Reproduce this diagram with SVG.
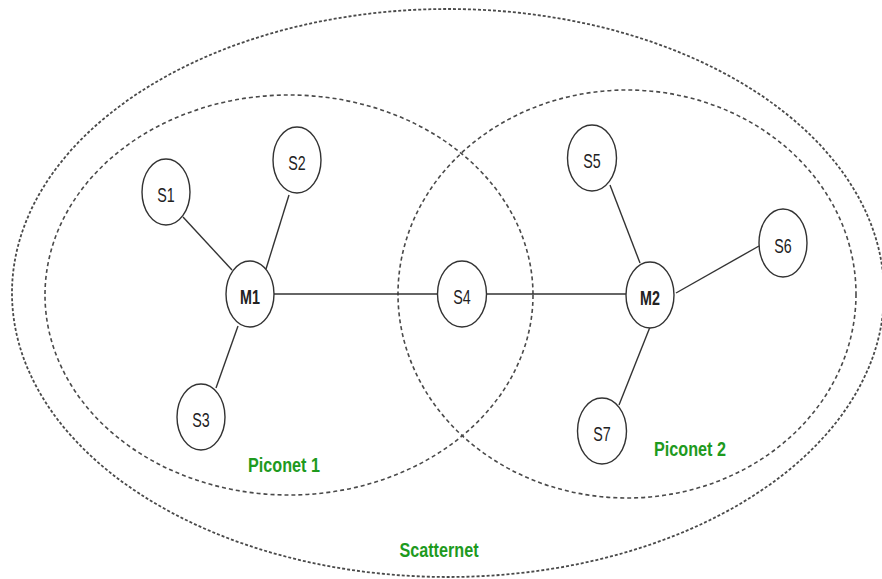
<svg xmlns="http://www.w3.org/2000/svg" width="882" height="579" viewBox="0 0 882 579">
<style>
.bg{fill:#ffffff}
.outer{fill:none;stroke:#4a4a4a;stroke-width:1.8;stroke-dasharray:3 2}
.pico{fill:none;stroke:#4a4a4a;stroke-width:1.6;stroke-dasharray:4 3}
.node ellipse{fill:#ffffff;stroke:#333;stroke-width:1.4}
.node text{font-family:"Liberation Sans",Arial,sans-serif;font-size:21px;fill:#222;text-anchor:middle}
.node text.m{font-weight:bold}
.edge{stroke:#333;stroke-width:1.4;fill:none}
.lbl{font-family:"Liberation Sans",Arial,sans-serif;font-size:21px;font-weight:bold;fill:#1e9a1e;text-anchor:middle}
</style>
<rect class="bg" x="0" y="0" width="882" height="579"/>
<g id="regions">
<ellipse id="scatternet" class="outer" cx="448" cy="293" rx="436" ry="284"/>
<ellipse id="piconet1" class="pico" cx="289" cy="295" rx="244" ry="200"/>
<ellipse id="piconet2" class="pico" cx="627" cy="294" rx="229" ry="204"/>
</g>
<g id="connectors">
<line class="edge" x1="183" y1="217" x2="232" y2="270"/>
<line class="edge" x1="289" y1="195" x2="266" y2="269"/>
<line class="edge" x1="238" y1="326" x2="216" y2="388"/>
<line class="edge" x1="274" y1="294" x2="438" y2="294"/>
<line class="edge" x1="487" y1="294" x2="626" y2="294"/>
<line class="edge" x1="610" y1="185" x2="640" y2="263"/>
<line class="edge" x1="759" y1="246" x2="676" y2="293"/>
<line class="edge" x1="650" y1="327" x2="619" y2="405"/>
</g>
<g id="S1" class="node"><ellipse cx="166" cy="192" rx="24" ry="33"/><text transform="translate(166,202) scale(0.68,1)">S1</text></g>
<g id="S2" class="node"><ellipse cx="297" cy="160" rx="24" ry="33"/><text transform="translate(297,170) scale(0.68,1)">S2</text></g>
<g id="M1" class="node"><ellipse cx="250" cy="294" rx="24" ry="33"/><text class="m" transform="translate(250,304) scale(0.68,1)">M1</text></g>
<g id="S3" class="node"><ellipse cx="201" cy="417" rx="24" ry="33"/><text transform="translate(201,427) scale(0.68,1)">S3</text></g>
<g id="S4" class="node"><ellipse cx="462" cy="294" rx="24.5" ry="33"/><text transform="translate(462,304) scale(0.68,1)">S4</text></g>
<g id="S5" class="node"><ellipse cx="592" cy="158" rx="24.5" ry="33"/><text transform="translate(592,168) scale(0.68,1)">S5</text></g>
<g id="S6" class="node"><ellipse cx="783" cy="243" rx="24" ry="34"/><text transform="translate(783,253) scale(0.68,1)">S6</text></g>
<g id="M2" class="node"><ellipse cx="650" cy="295" rx="24" ry="33"/><text class="m" transform="translate(650,305) scale(0.68,1)">M2</text></g>
<g id="S7" class="node"><ellipse cx="602" cy="431" rx="24.5" ry="33"/><text transform="translate(602,441) scale(0.68,1)">S7</text></g>
<g id="labels">
<text class="lbl" transform="translate(284,472) scale(0.77,1)">Piconet 1</text>
<text class="lbl" transform="translate(690,456) scale(0.77,1)">Piconet 2</text>
<text class="lbl" transform="translate(439,557) scale(0.77,1)">Scatternet</text>
</g>
</svg>
